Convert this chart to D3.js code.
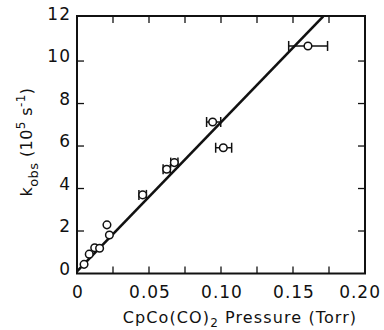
<!DOCTYPE html>
<html><head><meta charset="utf-8">
<script src="https://cdn.jsdelivr.net/npm/d3@7"></script>
<style>
html,body{margin:0;padding:0;background:#fff;}
svg text{font-family:"DejaVu Sans",sans-serif;fill:#111;}
</style></head>
<body><svg id="c" width="384" height="330"></svg>
<script>
// Data
const pressure = [0.0049, 0.0085, 0.0123, 0.0157, 0.0208, 0.0225, 0.0456, 0.0623, 0.0676, 0.0942, 0.1016, 0.1604];
const kobs     = [0.43, 0.91, 1.21, 1.19, 2.29, 1.81, 3.70, 4.91, 5.22, 7.13, 5.92, 10.71];
const errLow   = [0, 0, 0, 0, 0, 0, 0.0026, 0.0025, 0.0025, 0.0042, 0.0053, 0.0134];
const errHigh  = [0, 0, 0, 0, 0, 0, 0.0026, 0.0025, 0.0025, 0.0056, 0.0058, 0.0136];
const fitX = [0, 0.171];
const fitY = [0.1, 12.1];
const xTickLabels = ["0", "0.05", "0.10", "0.15", "0.20"];
const xTickValues = [0, 0.05, 0.10, 0.15, 0.20];
const xMinorTicks = [0.025, 0.05, 0.075, 0.10, 0.125, 0.15, 0.175];
const yTickValues = [0, 2, 4, 6, 8, 10, 12];
const yTickLabels = ["0", "2", "4", "6", "8", "10", "12"];

const svg = d3.select("#c");
const L = 77, R = 365, T = 16, B = 273.5;
const x = d3.scaleLinear().domain([0, 0.20]).range([L, R]);
const y = d3.scaleLinear().domain([0, 12.12]).range([B, T]);

const ink = "#111";
// frame
svg.append("rect").attr("x", L).attr("y", T).attr("width", R - L).attr("height", B - T)
  .attr("fill", "none").attr("stroke", ink).attr("stroke-width", 2);

// ticks (inward)
const tl = 7;
svg.append("g").selectAll("line").data(xMinorTicks).join("line")
  .attr("x1", d => x(d)).attr("x2", d => x(d)).attr("y1", B).attr("y2", B - tl)
  .attr("stroke", ink).attr("stroke-width", 1.3);
svg.append("g").selectAll("line").data(xMinorTicks).join("line")
  .attr("x1", d => x(d)).attr("x2", d => x(d)).attr("y1", T).attr("y2", T + tl)
  .attr("stroke", ink).attr("stroke-width", 1.3);
svg.append("g").selectAll("line").data(yTickValues.slice(1, -1)).join("line")
  .attr("x1", L).attr("x2", L + tl).attr("y1", d => y(d)).attr("y2", d => y(d))
  .attr("stroke", ink).attr("stroke-width", 1.3);
svg.append("g").selectAll("line").data(yTickValues.slice(1, -1)).join("line")
  .attr("x1", R).attr("x2", R - tl).attr("y1", d => y(d)).attr("y2", d => y(d))
  .attr("stroke", ink).attr("stroke-width", 1.3);

// tick labels
const nX = xTickValues.length;
svg.append("g").selectAll("text").data(xTickValues).join("text")
  .attr("x", (d, i) => i === nX - 1 ? x(d) + 16 : x(d) + 1)
  .attr("y", 298)
  .attr("text-anchor", (d, i) => i === nX - 1 ? "end" : "middle")
  .attr("font-size", 17).attr("letter-spacing", 1)
  .text((d, i) => xTickLabels[i]);
svg.append("g").selectAll("text").data(yTickValues).join("text")
  .attr("x", 71).attr("y", d => y(d) + 1).attr("text-anchor", "end")
  .attr("font-size", 17).attr("letter-spacing", 1)
  .text((d, i) => yTickLabels[i]);

// axis titles
const xt = svg.append("text").attr("x", 240).attr("y", 323).attr("text-anchor", "middle")
  .attr("font-size", 16).attr("letter-spacing", 1.1);
xt.append("tspan").text("CpCo(CO)");
xt.append("tspan").attr("font-size", 12).attr("dy", 4).text("2");
xt.append("tspan").attr("dy", -4).text(" Pressure (Torr)");

const yt = svg.append("text").attr("transform", "translate(32,142) rotate(-90)")
  .attr("text-anchor", "middle").attr("font-size", 16).attr("letter-spacing", 0.4);
yt.append("tspan").text("k");
yt.append("tspan").attr("font-size", 13).attr("dy", 6).text("obs");
yt.append("tspan").attr("dy", -6).text(" (10");
yt.append("tspan").attr("font-size", 12).attr("dy", -7).text("5");
yt.append("tspan").attr("dy", 7).text(" s");
yt.append("tspan").attr("font-size", 12).attr("dy", -7).text("-1");
yt.append("tspan").attr("dy", 7).text(")");

// fit line
svg.append("line").attr("x1", x(fitX[0])).attr("y1", y(fitY[0]))
  .attr("x2", x(fitX[1])).attr("y2", y(fitY[1]))
  .attr("stroke", ink).attr("stroke-width", 2.6);

// error bars
const idx = d3.range(pressure.length).filter(i => errLow[i] > 0);
const eb = svg.append("g").attr("stroke", ink).attr("stroke-width", 1.5);
eb.selectAll(".h").data(idx).join("line")
  .attr("x1", i => x(pressure[i] - errLow[i])).attr("x2", i => x(pressure[i] + errHigh[i]))
  .attr("y1", i => y(kobs[i])).attr("y2", i => y(kobs[i]));
eb.selectAll(".l").data(idx).join("line")
  .attr("x1", i => x(pressure[i] - errLow[i])).attr("x2", i => x(pressure[i] - errLow[i]))
  .attr("y1", i => y(kobs[i]) - 5).attr("y2", i => y(kobs[i]) + 5);
eb.selectAll(".r").data(idx).join("line")
  .attr("x1", i => x(pressure[i] + errHigh[i])).attr("x2", i => x(pressure[i] + errHigh[i]))
  .attr("y1", i => y(kobs[i]) - 5).attr("y2", i => y(kobs[i]) + 5);

// points
svg.append("g").selectAll("circle").data(d3.range(pressure.length)).join("circle")
  .attr("cx", i => x(pressure[i])).attr("cy", i => y(kobs[i])).attr("r", 3.8)
  .attr("fill", "#fff").attr("stroke", ink).attr("stroke-width", 1.5);
</script></body></html>
